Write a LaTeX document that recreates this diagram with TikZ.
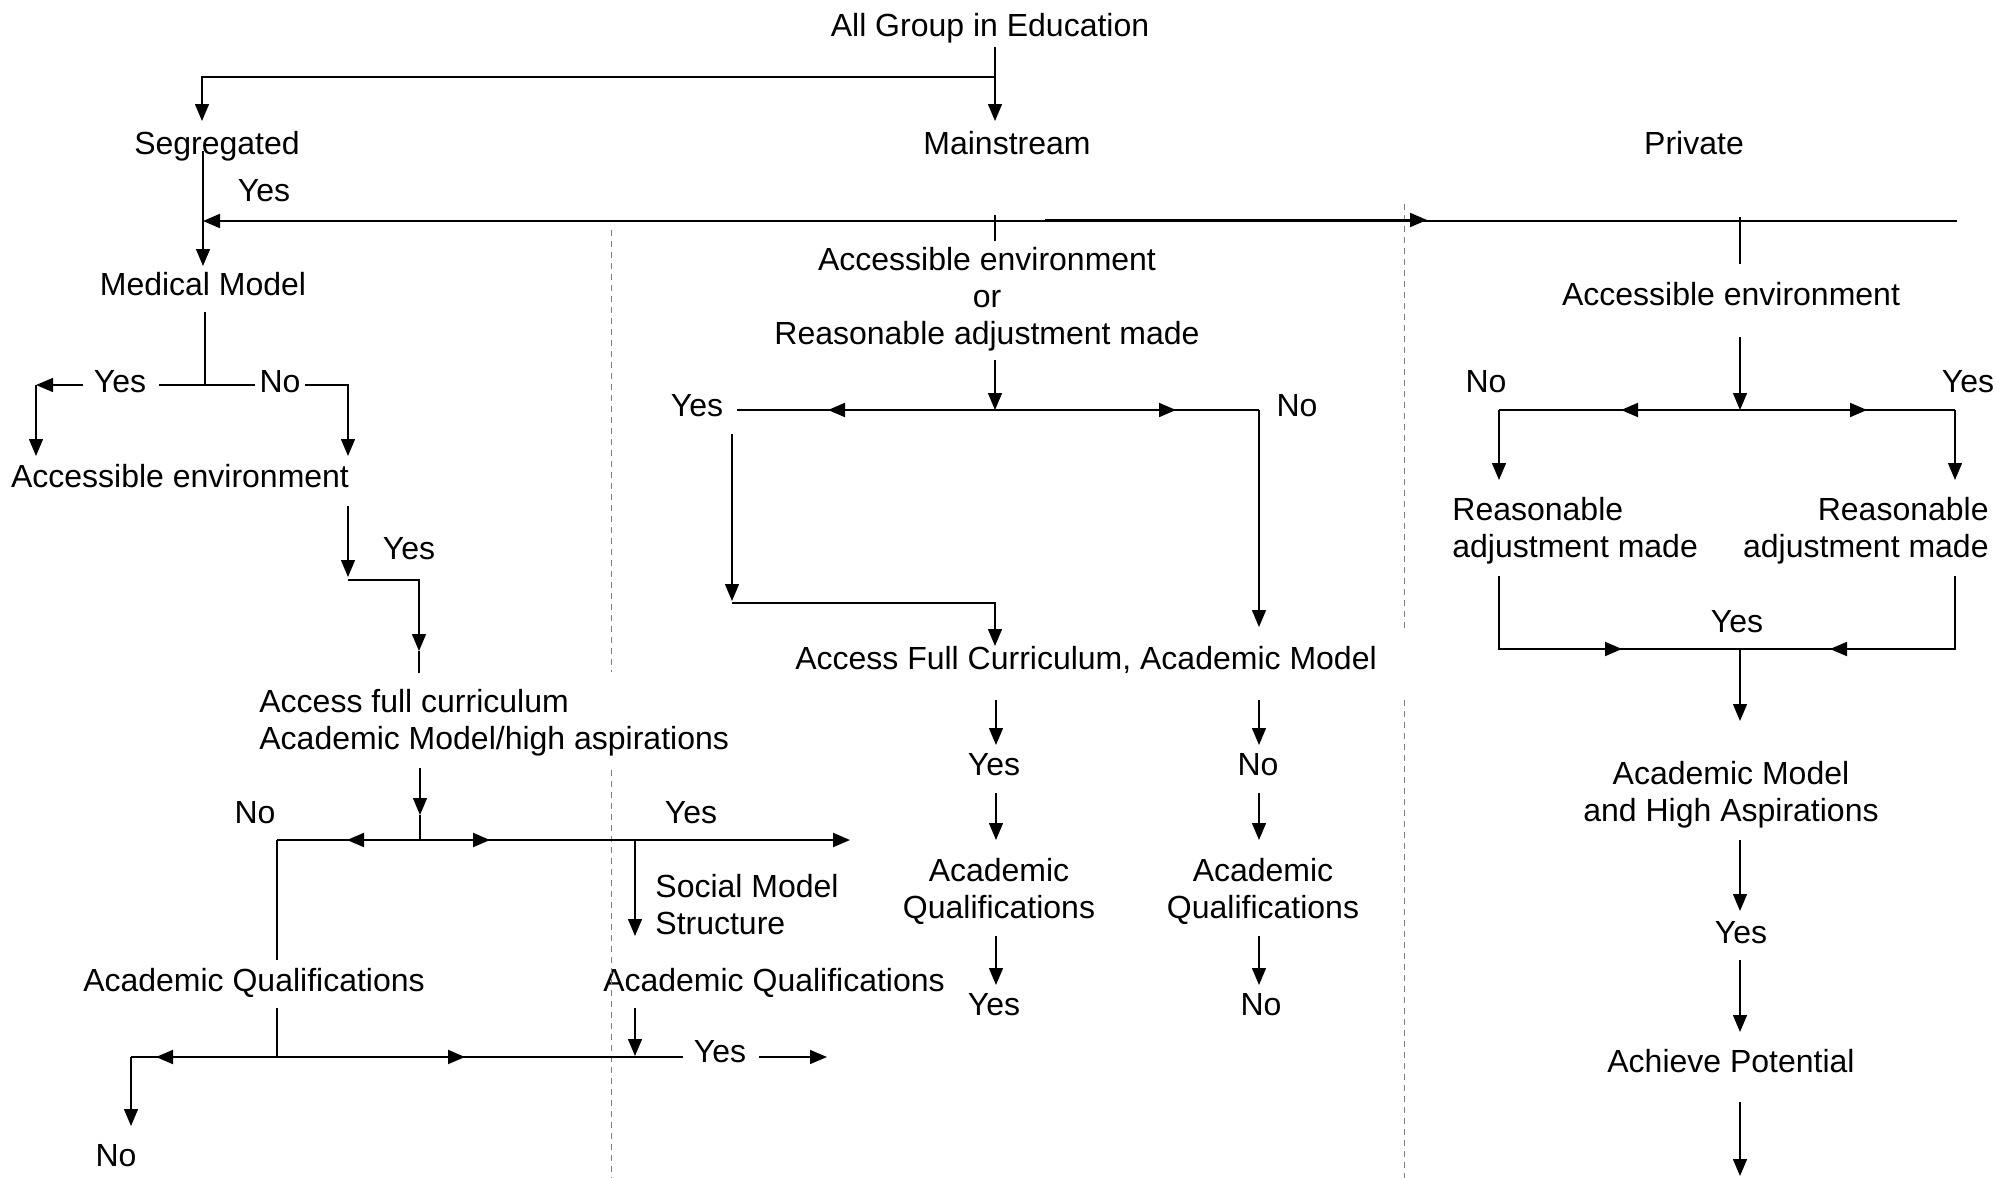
\documentclass[tikz,border=0pt]{standalone}
\usepackage{fontspec}
\setmainfont{Liberation Sans}
\usetikzlibrary{arrows.meta}
\begin{document}
\begin{tikzpicture}[x=0.5pt,y=-0.5pt,
  lbl/.style={inner sep=0pt, font=\fontsize{16}{18.5}\selectfont},
  con/.style={line width=0.7pt},
  thk/.style={line width=0.95pt},
  arr/.style={con, -{Triangle[length=8.5pt,width=7pt]}},
  sep/.style={gray, line width=0.4pt, dash pattern=on 3pt off 2.5pt}]
\useasboundingbox[fill=white] (0,0) rectangle (2003,1178);

% ---------- text nodes ----------
\node[lbl,anchor=base] (all) at (990,36) {All Group in Education};
\node[lbl,anchor=base] (seg) at (217,154) {Segregated};
\node[lbl,anchor=base] (main) at (1007,154) {Mainstream};
\node[lbl,anchor=base] (priv) at (1694,154) {Private};
\node[lbl,anchor=base] (yes1) at (264,201) {Yes};
\node[lbl,anchor=base] (med) at (203,295) {Medical Model};
\node[lbl,anchor=base] (yes2) at (120,392) {Yes};
\node[lbl,anchor=base] (no2) at (280,392) {No};
\node[lbl,anchor=base] (accL) at (180,487) {Accessible environment};
\node[lbl,anchor=base] (yes3) at (409,559) {Yes};
\node[lbl,anchor=west,align=left] (afc) at (259,723) {Access full curriculum\\Academic Model/high aspirations};
\node[lbl,anchor=base] (no4) at (255,823) {No};
\node[lbl,anchor=base] (yes4) at (691,823) {Yes};
\node[lbl,anchor=west,align=left] (soc) at (655,905) {Social Model\\Structure};
\node[lbl,anchor=base] (aqL) at (254,991) {Academic Qualifications};
\node[lbl,anchor=base] (aqM) at (774,991) {Academic Qualifications};
\node[lbl,anchor=base] (yes5) at (720,1062) {Yes};
\node[lbl,anchor=base] (no5) at (116,1166) {No};

\node[lbl,align=center] (accM) at (987,299) {Accessible environment\\or\\Reasonable adjustment made};
\node[lbl,anchor=base] (yesM) at (697,416) {Yes};
\node[lbl,anchor=base] (noM) at (1297,416) {No};
\node[lbl,anchor=base] (afcM) at (1086,669) {Access Full Curriculum, Academic Model};
\node[lbl,anchor=base] (yesM2) at (994,775) {Yes};
\node[lbl,anchor=base] (noM2) at (1258,775) {No};
\node[lbl,align=center] (aqM1) at (999,891) {Academic\\Qualifications};
\node[lbl,align=center] (aqM2) at (1263,891) {Academic\\Qualifications};
\node[lbl,anchor=base] (yesM3) at (994,1015) {Yes};
\node[lbl,anchor=base] (noM3) at (1261,1015) {No};

\node[lbl,anchor=base] (accR) at (1731,305) {Accessible environment};
\node[lbl,anchor=base] (noR) at (1486,392) {No};
\node[lbl,anchor=base] (yesR) at (1968,392) {Yes};
\node[lbl,anchor=west,align=left] (raL) at (1452,531) {Reasonable\\adjustment made};
\node[lbl,anchor=east,align=right] (raR) at (1989,531) {Reasonable\\adjustment made};
\node[lbl,anchor=base] (yesR2) at (1737,632) {Yes};
\node[lbl,align=center] (amR) at (1731,795) {Academic Model\\and High Aspirations};
\node[lbl,anchor=base] (yesR3) at (1741,943) {Yes};
\node[lbl,anchor=base] (ach) at (1731,1072) {Achieve Potential};

% ---------- dashed separators ----------
\coordinate (d1) at (611,230); \coordinate (d2) at (611,672);
\coordinate (d3) at (611,770); \coordinate (d4) at (611,1178);
\coordinate (d5) at (1404,204); \coordinate (d6) at (1404,629);
\coordinate (d7) at (1404,700); \coordinate (d8) at (1404,1178);
\draw[sep] (d1) -- (d2); \draw[sep] (d3) -- (d4);
\draw[sep] (d5) -- (d6); \draw[sep] (d7) -- (d8);

% ---------- top ----------
\coordinate (t1) at (995,47); \coordinate (t2) at (995,77);
\coordinate (t3) at (202,77); \coordinate (t4) at (202,121);
\coordinate (t5) at (995,121);
\draw[arr] (t1) -- (t5);
\draw[arr] (t2) -- (t3) -- (t4);

% segregated / long horizontal
\coordinate (s1) at (203,151); \coordinate (s2) at (203,221); \coordinate (s3) at (203,266);
\draw[arr] (s1) -- (s3);
\coordinate (h1) at (1957,221);
\draw[arr,thk] (h1) -- (s2);
\coordinate (h3) at (1045,220); \coordinate (h4) at (1427,220);
\draw[arr,thk] (h3) -- (h4);
\coordinate (m1) at (995,215); \coordinate (m2) at (995,241);
\draw[con] (m1) -- (m2);
\coordinate (p1) at (1740,217); \coordinate (p2) at (1740,264);
\draw[con] (p1) -- (p2);

% ---------- segregated column ----------
\coordinate (md1) at (205,312); \coordinate (md2) at (205,385);
\draw[con] (md1) -- (md2);
\coordinate (l1) at (159,385); \coordinate (l2) at (255,385);
\draw[con] (l1) -- (l2);
\coordinate (l3) at (305,385); \coordinate (l4) at (348,385); \coordinate (l5) at (348,456);
\draw[arr] (l3) -- (l4) -- (l5);
\coordinate (l6) at (83,385); \coordinate (l7) at (36,385); \coordinate (l8) at (36,456);
\draw[arr] (l6) -- (l7);
\draw[arr] (l7) -- (l8);

\coordinate (a1) at (348,506); \coordinate (a2) at (348,577);
\draw[arr] (a1) -- (a2);
\coordinate (a3) at (348,580); \coordinate (a4) at (419,580);
\coordinate (a5) at (419,651); \coordinate (a6) at (419,673);
\draw[arr] (a3) -- (a4) -- (a5);
\draw[con] (a5) -- (a6);

\coordinate (b1) at (420,768); \coordinate (b2) at (420,815); \coordinate (b3) at (420,840);
\draw[arr] (b1) -- (b2);
\draw[con] (b2) -- (b3);
\coordinate (b4) at (277,840); \coordinate (b5) at (850,840);
\draw[arr,thk] (b4) -- (b5);
\coordinate (b6) at (347,840); \coordinate (b7) at (490,840);
\draw[arr,thk] (b3) -- (b6);
\draw[arr,thk] (b3) -- (b7);
\coordinate (b8) at (277,960);
\draw[con] (b4) -- (b8);
\coordinate (b9) at (635,841); \coordinate (b10) at (635,936);
\draw[arr] (b9) -- (b10);

\coordinate (c1) at (277,1008); \coordinate (c2) at (277,1057);
\draw[con] (c1) -- (c2);
\coordinate (c3) at (131,1057); \coordinate (c4) at (683,1057);
\draw[thk] (c3) -- (c4);
\coordinate (c5) at (156,1057); \coordinate (c6) at (465,1057);
\draw[arr,thk] (c2) -- (c5);
\draw[arr,thk] (c2) -- (c6);
\coordinate (c7) at (131,1126);
\draw[arr] (c3) -- (c7);
\coordinate (c8) at (635,1008); \coordinate (c9) at (635,1056);
\draw[arr] (c8) -- (c9);
\coordinate (c10) at (759,1057); \coordinate (c11) at (827,1057);
\draw[arr] (c10) -- (c11);

% ---------- mainstream column ----------
\coordinate (e1) at (995,360); \coordinate (e2) at (995,410);
\draw[arr] (e1) -- (e2);
\coordinate (e3) at (737,410); \coordinate (e4) at (1259,410); \coordinate (e5) at (1259,627);
\draw[thk] (e3) -- (e4);
\draw[arr] (e4) -- (e5);
\coordinate (e6) at (828,410); \coordinate (e7) at (1176,410);
\draw[arr,thk] (e2) -- (e6);
\draw[arr,thk] (e2) -- (e7);
\coordinate (e8) at (732,434); \coordinate (e9) at (732,601);
\draw[arr] (e8) -- (e9);
\coordinate (e10) at (732,603); \coordinate (e11) at (995,603); \coordinate (e12) at (995,646);
\draw[arr] (e10) -- (e11) -- (e12);

\coordinate (f1) at (996,700); \coordinate (f2) at (996,745);
\coordinate (f3) at (1259,700); \coordinate (f4) at (1259,745);
\coordinate (f5) at (996,793); \coordinate (f6) at (996,840);
\coordinate (f7) at (1259,793); \coordinate (f8) at (1259,840);
\coordinate (f9) at (996,936); \coordinate (f10) at (996,985);
\coordinate (f11) at (1259,936); \coordinate (f12) at (1259,985);
\draw[arr] (f1) -- (f2); \draw[arr] (f3) -- (f4);
\draw[arr] (f5) -- (f6); \draw[arr] (f7) -- (f8);
\draw[arr] (f9) -- (f10); \draw[arr] (f11) -- (f12);

% ---------- private column ----------
\coordinate (g1) at (1740,337); \coordinate (g2) at (1740,410);
\draw[arr] (g1) -- (g2);
\coordinate (g3) at (1499,410); \coordinate (g4) at (1955,410);
\draw[thk] (g3) -- (g4);
\coordinate (g5) at (1621,410); \coordinate (g6) at (1867,410);
\draw[arr,thk] (g2) -- (g5);
\draw[arr,thk] (g2) -- (g6);
\coordinate (g7) at (1499,480); \coordinate (g8) at (1955,480);
\draw[arr] (g3) -- (g7);
\draw[arr] (g4) -- (g8);
\coordinate (g9) at (1499,576); \coordinate (g10) at (1499,649);
\coordinate (g11) at (1955,649); \coordinate (g12) at (1955,576);
\draw[thk] (g9) -- (g10) -- (g11) -- (g12);
\coordinate (g14) at (1622,649); \coordinate (g15) at (1830,649);
\draw[arr,thk] (g10) -- (g14);
\draw[arr,thk] (g11) -- (g15);
\coordinate (g13) at (1740,649); \coordinate (g16) at (1740,721);
\draw[arr] (g13) -- (g16);
\coordinate (g17) at (1740,840); \coordinate (g18) at (1740,911);
\draw[arr] (g17) -- (g18);
\coordinate (g19) at (1740,960); \coordinate (g20) at (1740,1032);
\draw[arr] (g19) -- (g20);
\coordinate (g21) at (1740,1102); \coordinate (g22) at (1740,1176);
\draw[arr] (g21) -- (g22);
\end{tikzpicture}
\end{document}
